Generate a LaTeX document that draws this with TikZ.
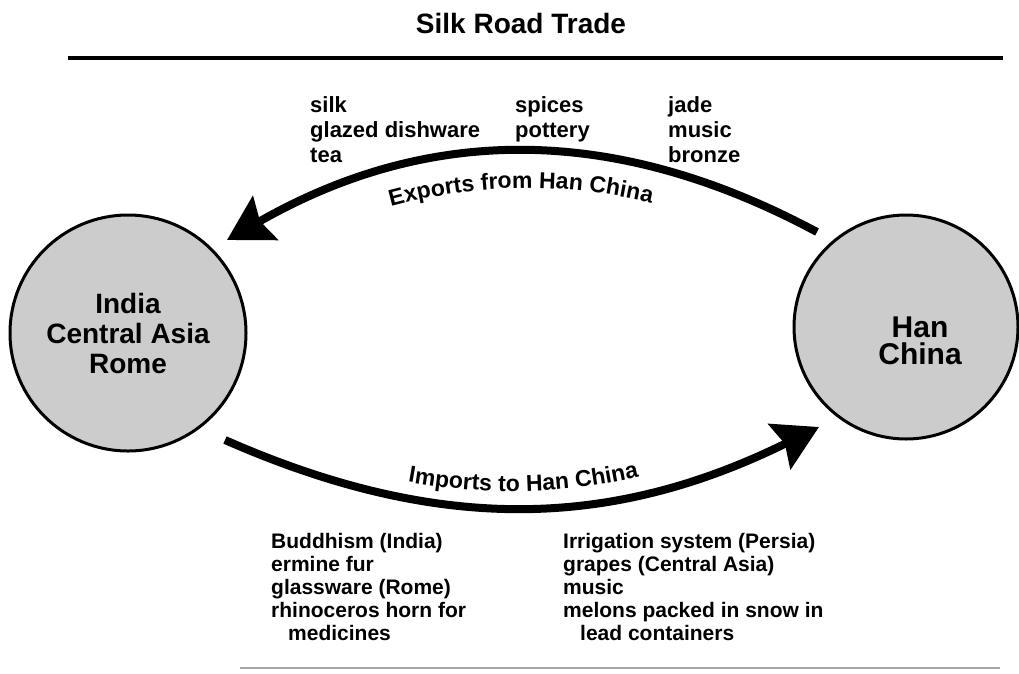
\documentclass[tikz,border=0pt]{standalone}
\usepackage{fontspec}
\setmainfont{Liberation Sans}
\usetikzlibrary{arrows.meta,decorations.text}
\newcommand\titlefont{\fontsize{28}{32}\selectfont\bfseries}
\newcommand\circfont{\fontsize{28}{30}\selectfont\bfseries}
\newcommand\hanfont{\fontsize{30}{27}\selectfont\bfseries}
\newcommand\toplistfont{\fontsize{22}{25}\selectfont\bfseries}
\newcommand\botlistfont{\fontsize{21}{23}\selectfont\bfseries}
\newcommand\arclblfont{\fontsize{23}{27}\selectfont\bfseries}
\begin{document}
\begin{tikzpicture}[x=1pt,y=1pt,
  region/.style={circle,draw=black,line width=3pt,fill=black!20,inner sep=0pt},
  flow/.style={line width=8pt,-{Stealth[length=44pt,width=50pt,inset=6pt]}},
  toplist/.style={anchor=base west,inner sep=0pt,font=\toplistfont},
  botlist/.style={anchor=base west,inner sep=0pt,font=\botlistfont},
  arclabel/.style={decorate,decoration={text along path,text align=center,text={#1}}}
]
\useasboundingbox (0,0) rectangle (1019,-673);
\fill[white] (0,0) rectangle (1019,-673);

% title and rules
\node[font=\titlefont,anchor=base,inner sep=0pt] (title) at (521,-33) {Silk Road Trade};
\draw[line width=3.5pt] (68,-58) -- (1003,-58);
\draw[black!35,line width=1.5pt] (240,-668) -- (1000,-668);

% regions
\node[region,minimum size=236pt] (L) at (128,-333) {};
\node[region,minimum size=224pt] (R) at (906,-327) {};
\node[font=\circfont,align=center,inner sep=0pt] (Ltxt) at (128,-333) {India\\Central Asia\\Rome};
\node[font=\hanfont,align=center,inner sep=0pt] (Rtxt) at (920,-341) {Han\\China};

% arrow end points
\coordinate (es) at (817,-232);
\coordinate (et) at (227,-240);
\coordinate (is) at (225,-440);
\coordinate (it) at (819,-427);

\draw[flow] (es) to[bend right=29] (et);
\draw[flow] (is) to[bend right=25] (it);

\path[arclabel={|\arclblfont|Exports from Han China}] (227,-276) to[bend left=29] (817,-268);
\path[arclabel={|\arclblfont|Imports to Han China}] (225,-424) to[bend right=25] (819,-411);

% export lists
\node[toplist] (ex1) at (310,-112) {\begin{tabular}[t]{@{}l@{}}silk\\glazed dishware\\tea\end{tabular}};
\node[toplist] (ex2) at (515,-112) {\begin{tabular}[t]{@{}l@{}}spices\\pottery\end{tabular}};
\node[toplist] (ex3) at (668,-112) {\begin{tabular}[t]{@{}l@{}}jade\\music\\bronze\end{tabular}};

% import lists
\node[botlist] (im1) at (271,-548) {\begin{tabular}[t]{@{}l@{}}Buddhism (India)\\ermine fur\\glassware (Rome)\\rhinoceros horn for\\\hspace*{17pt}medicines\end{tabular}};
\node[botlist] (im2) at (563,-548) {\begin{tabular}[t]{@{}l@{}}Irrigation system (Persia)\\grapes (Central Asia)\\music\\melons packed in snow in\\\hspace*{17pt}lead containers\end{tabular}};
\end{tikzpicture}
\end{document}
